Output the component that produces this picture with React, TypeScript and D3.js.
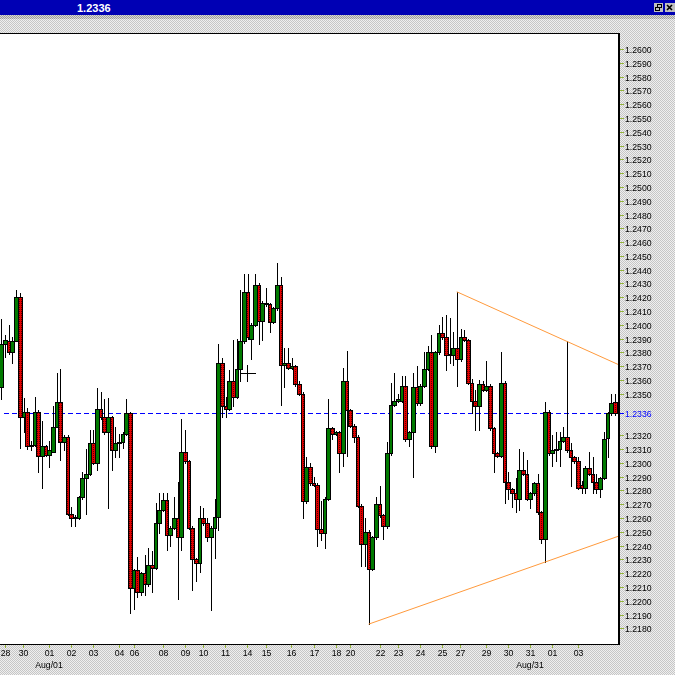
import * as d3 from 'd3';

// 4-hour candles, late Jul – early Sep
const opens = [
  1.2355, 1.2386, 1.2388, 1.2380, 1.2388, 1.2420, 1.2333, 1.2337, 1.2312, 1.2313,
  1.2337, 1.2305, 1.2312, 1.2306, 1.2308, 1.2326, 1.2344, 1.2315, 1.2319, 1.2263,
  1.2260, 1.2260, 1.2275, 1.2289, 1.2292, 1.2314, 1.2300, 1.2339, 1.2333, 1.2322,
  1.2333, 1.2309, 1.2314, 1.2315, 1.2321, 1.2336, 1.2209, 1.2222, 1.2206, 1.2220,
  1.2212, 1.2226, 1.2224, 1.2256, 1.2266, 1.2273, 1.2248, 1.2253, 1.2260, 1.2246,
  1.2308, 1.2301, 1.2253, 1.2230, 1.2227, 1.2260, 1.2256, 1.2246, 1.2253, 1.2261,
  1.2372, 1.2341, 1.2339, 1.2359, 1.2348, 1.2368, 1.2388, 1.2424, 1.2390, 1.2400,
  1.2429, 1.2403, 1.2416, 1.2415, 1.2402, 1.2412, 1.2429, 1.2371, 1.2372, 1.2369,
  1.2370, 1.2357, 1.2350, 1.2272, 1.2297, 1.2285, 1.2284, 1.2252, 1.2249, 1.2274,
  1.2325, 1.2321, 1.2322, 1.2307, 1.2359, 1.2338, 1.2327, 1.2319, 1.2269, 1.2241,
  1.2250, 1.2223, 1.2246, 1.2270, 1.2262, 1.2254, 1.2307, 1.2342, 1.2345, 1.2345,
  1.2356, 1.2317, 1.2322, 1.2355, 1.2343, 1.2356, 1.2368, 1.2380, 1.2312, 1.2380,
  1.2394, 1.2391, 1.2378, 1.2378, 1.2383, 1.2375, 1.2391, 1.2389, 1.2358, 1.2345,
  1.2341, 1.2357, 1.2353, 1.2356, 1.2325, 1.2307, 1.2305, 1.2358, 1.2286, 1.2281,
  1.2278, 1.2274, 1.2295, 1.2292, 1.2274, 1.2278, 1.2285, 1.2264, 1.2245, 1.2337,
  1.2307, 1.2309, 1.2310, 1.2316, 1.2319, 1.2309, 1.2304, 1.2301, 1.2284, 1.2282,
  1.2296, 1.2292, 1.2286, 1.2281, 1.2289, 1.2318, 1.2336, 1.2344,
];

const highs = [
  1.2404, 1.2393, 1.2400, 1.2391, 1.2425, 1.2423, 1.2347, 1.2340, 1.2316, 1.2348,
  1.2338, 1.2330, 1.2313, 1.2316, 1.2341, 1.2365, 1.2368, 1.2320, 1.2320, 1.2268,
  1.2262, 1.2276, 1.2293, 1.2310, 1.2324, 1.2324, 1.2354, 1.2351, 1.2346, 1.2347,
  1.2334, 1.2326, 1.2321, 1.2322, 1.2346, 1.2337, 1.2223, 1.2232, 1.2221, 1.2233,
  1.2238, 1.2236, 1.2271, 1.2278, 1.2278, 1.2278, 1.2254, 1.2275, 1.2286, 1.2332,
  1.2324, 1.2302, 1.2254, 1.2231, 1.2269, 1.2267, 1.2260, 1.2254, 1.2274, 1.2386,
  1.2376, 1.2348, 1.2367, 1.2389, 1.2390, 1.2425, 1.2437, 1.2437, 1.2401, 1.2437,
  1.2430, 1.2417, 1.2427, 1.2416, 1.2413, 1.2445, 1.2435, 1.2383, 1.2383, 1.2376,
  1.2371, 1.2359, 1.2351, 1.2304, 1.2300, 1.2290, 1.2285, 1.2272, 1.2275, 1.2346,
  1.2326, 1.2323, 1.2323, 1.2369, 1.2381, 1.2339, 1.2328, 1.2320, 1.2270, 1.2260,
  1.2251, 1.2247, 1.2275, 1.2283, 1.2263, 1.2315, 1.2358, 1.2365, 1.2350, 1.2363,
  1.2363, 1.2323, 1.2365, 1.2370, 1.2357, 1.2380, 1.2385, 1.2393, 1.2381, 1.2400,
  1.2406, 1.2407, 1.2405, 1.2395, 1.2424, 1.2397, 1.2396, 1.2390, 1.2361, 1.2353,
  1.2360, 1.2359, 1.2374, 1.2357, 1.2326, 1.2308, 1.2380, 1.2359, 1.2293, 1.2282,
  1.2289, 1.2310, 1.2308, 1.2302, 1.2279, 1.2286, 1.2292, 1.2265, 1.2344, 1.2338,
  1.2320, 1.2322, 1.2322, 1.2326, 1.2388, 1.2314, 1.2305, 1.2304, 1.2287, 1.2298,
  1.2308, 1.2304, 1.2292, 1.2290, 1.2322, 1.2337, 1.2350, 1.2350,
];

const lows = [
  1.2346, 1.2377, 1.2379, 1.2372, 1.2388, 1.2311, 1.2322, 1.2310, 1.2309, 1.2312,
  1.2293, 1.2282, 1.2305, 1.2297, 1.2308, 1.2326, 1.2302, 1.2309, 1.2262, 1.2254,
  1.2254, 1.2259, 1.2274, 1.2263, 1.2291, 1.2299, 1.2295, 1.2332, 1.2321, 1.2267,
  1.2295, 1.2304, 1.2304, 1.2311, 1.2320, 1.2191, 1.2194, 1.2203, 1.2204, 1.2204,
  1.2211, 1.2206, 1.2223, 1.2249, 1.2265, 1.2237, 1.2240, 1.2252, 1.2201, 1.2237,
  1.2300, 1.2252, 1.2208, 1.2214, 1.2221, 1.2255, 1.2243, 1.2193, 1.2231, 1.2251,
  1.2333, 1.2333, 1.2338, 1.2341, 1.2347, 1.2359, 1.2387, 1.2390, 1.2375, 1.2399,
  1.2386, 1.2389, 1.2414, 1.2395, 1.2401, 1.2411, 1.2342, 1.2355, 1.2368, 1.2368,
  1.2356, 1.2349, 1.2260, 1.2271, 1.2284, 1.2283, 1.2240, 1.2244, 1.2238, 1.2273,
  1.2317, 1.2320, 1.2293, 1.2298, 1.2305, 1.2326, 1.2315, 1.2268, 1.2225, 1.2225,
  1.2183, 1.2222, 1.2245, 1.2261, 1.2245, 1.2253, 1.2306, 1.2341, 1.2344, 1.2344,
  1.2316, 1.2312, 1.2290, 1.2342, 1.2342, 1.2355, 1.2367, 1.2311, 1.2308, 1.2379,
  1.2390, 1.2367, 1.2372, 1.2371, 1.2356, 1.2374, 1.2388, 1.2357, 1.2336, 1.2324,
  1.2324, 1.2352, 1.2352, 1.2324, 1.2293, 1.2304, 1.2304, 1.2271, 1.2274, 1.2268,
  1.2264, 1.2266, 1.2291, 1.2273, 1.2267, 1.2277, 1.2263, 1.2242, 1.2228, 1.2306,
  1.2298, 1.2301, 1.2298, 1.2315, 1.2308, 1.2283, 1.2300, 1.2281, 1.2278, 1.2278,
  1.2291, 1.2278, 1.2278, 1.2275, 1.2288, 1.2304, 1.2335, 1.2335,
];

const closes = [
  1.2386, 1.2389, 1.2380, 1.2388, 1.2420, 1.2333, 1.2337, 1.2312, 1.2313, 1.2337,
  1.2305, 1.2312, 1.2306, 1.2309, 1.2326, 1.2344, 1.2315, 1.2319, 1.2263, 1.2260,
  1.2261, 1.2275, 1.2289, 1.2292, 1.2314, 1.2300, 1.2339, 1.2333, 1.2322, 1.2333,
  1.2309, 1.2314, 1.2315, 1.2321, 1.2336, 1.2209, 1.2222, 1.2206, 1.2220, 1.2212,
  1.2226, 1.2224, 1.2256, 1.2266, 1.2273, 1.2248, 1.2253, 1.2260, 1.2246, 1.2308,
  1.2301, 1.2253, 1.2230, 1.2227, 1.2260, 1.2256, 1.2246, 1.2253, 1.2261, 1.2372,
  1.2341, 1.2339, 1.2359, 1.2348, 1.2368, 1.2388, 1.2424, 1.2391, 1.2400, 1.2429,
  1.2403, 1.2416, 1.2415, 1.2402, 1.2412, 1.2429, 1.2371, 1.2372, 1.2369, 1.2370,
  1.2357, 1.2350, 1.2272, 1.2297, 1.2285, 1.2284, 1.2252, 1.2249, 1.2274, 1.2325,
  1.2321, 1.2322, 1.2307, 1.2359, 1.2338, 1.2327, 1.2319, 1.2269, 1.2241, 1.2250,
  1.2223, 1.2246, 1.2270, 1.2262, 1.2254, 1.2307, 1.2342, 1.2345, 1.2346, 1.2356,
  1.2317, 1.2322, 1.2355, 1.2343, 1.2356, 1.2368, 1.2380, 1.2312, 1.2380, 1.2394,
  1.2391, 1.2378, 1.2379, 1.2383, 1.2375, 1.2391, 1.2389, 1.2358, 1.2345, 1.2341,
  1.2357, 1.2353, 1.2356, 1.2325, 1.2307, 1.2305, 1.2358, 1.2286, 1.2281, 1.2278,
  1.2274, 1.2295, 1.2292, 1.2274, 1.2278, 1.2285, 1.2264, 1.2245, 1.2337, 1.2307,
  1.2309, 1.2310, 1.2316, 1.2319, 1.2309, 1.2304, 1.2301, 1.2282, 1.2282, 1.2296,
  1.2292, 1.2286, 1.2281, 1.2289, 1.2317, 1.2336, 1.2343, 1.2336,
];

// x axis labels (candle index where each day label sits)
const dayLabels = ['28', '30', '01', '02', '03', '04', '06', '08', '09', '10', '11', '14', '15', '16',
  '17', '18', '20', '22', '23', '24', '25', '27', '29', '30', '31', '01', '03'];
const dayIndex = [1, 6, 13, 19, 25, 32, 36, 44, 50, 55, 61, 67, 72, 79,
  85, 91, 95, 103, 108, 114, 120, 125, 132, 138, 144, 150, 157];
const monthLabels = ['Aug/01', 'Aug/31'];
const monthIndex = [13, 144];

const lastPrice = 1.2336;
// trend lines: pairs of candle indexes (highs for the upper line, lows for the lower one)
const upperLine = [124, 154];
const lowerLine = [100, 148];

const FONT = '"Liberation Sans", Arial, sans-serif';
const PLOT = { left: 0, right: 618, top: 33, bottom: 644 };
const TICK_GREEN = '#94b43a';

export default function App() {
  const x = d3.scaleLinear().domain([0, opens.length - 1]).range([1.3, 614.7]);
  const y = d3.scaleLinear().domain([1.218, 1.26]).range([628.3, 49]);
  const step = x(1) - x(0);

  const priceTicks = d3.range(0, 43).map(i => +(1.218 + i * 0.001).toFixed(4));
  const yLast = Math.round(y(lastPrice));

  const trend = (idx: number[], vals: number[]) => {
    const x1 = x(idx[0]), y1 = y(vals[idx[0]]);
    const x2 = x(idx[1]), y2 = y(vals[idx[1]]);
    const slope = (y2 - y1) / (x2 - x1);
    const xe = PLOT.right;
    return { x1, y1, x2: xe, y2: y1 + slope * (xe - x1) };
  };
  const up = trend(upperLine, highs);
  const lo = trend(lowerLine, lows);

  return (
    <svg width={675} height={675} style={{ position: 'fixed', left: 0, top: 0, display: 'block' }}
      fontFamily={FONT}>
      <defs>
        <pattern id="bgDither" width={2} height={2} patternUnits="userSpaceOnUse">
          <rect width={2} height={2} fill="#efefef" />
          <rect width={1} height={1} fill="#c6c6c6" />
          <rect x={1} y={1} width={1} height={1} fill="#c6c6c6" />
        </pattern>
        <pattern id="bandDither" width={2} height={2} patternUnits="userSpaceOnUse">
          <rect width={2} height={2} fill="#d8d8d8" />
          <rect width={1} height={1} fill="#a0a0a0" />
          <rect x={1} y={1} width={1} height={1} fill="#a0a0a0" />
        </pattern>
        <pattern id="redDither" width={2} height={2} patternUnits="userSpaceOnUse">
          <rect width={2} height={2} fill="#e00000" />
          <rect x={1} y={1} width={1} height={1} fill="#5a0000" />
        </pattern>
        <clipPath id="plotClip">
          <rect x={PLOT.left} y={PLOT.top} width={PLOT.right - PLOT.left} height={PLOT.bottom - PLOT.top} />
        </clipPath>
      </defs>

      {/* window background */}
      <rect width={675} height={675} fill="url(#bgDither)" />
      <rect x={0} y={15} width={675} height={4} fill="url(#bandDither)" />

      {/* title bar */}
      <rect x={0} y={0} width={675} height={15} fill="#0000b4" />
      <text x={77} y={12} fill="#ffffff" fontSize={11} fontWeight="bold">1.2336</text>
      <g shapeRendering="crispEdges">
        <rect x={654} y={3} width={9} height={9} fill="#c0c0c0" />
        <rect x={657.5} y={4.5} width={4} height={3} fill="none" stroke="#000" />
        <rect x={655.5} y={7.5} width={4} height={3} fill="#c0c0c0" stroke="#000" />
        <rect x={665} y={3} width={10} height={9} fill="#c0c0c0" />
      </g>
      <path d="M667,5 L672,10 M672,5 L667,10" stroke="#000" strokeWidth={1.6} />

      {/* plot area */}
      <rect x={PLOT.left} y={PLOT.top} width={PLOT.right - PLOT.left} height={PLOT.bottom - PLOT.top} fill="#ffffff" />

      <g clipPath="url(#plotClip)">
        {/* last price dashed line */}
        <line x1={4} x2={PLOT.right} y1={yLast + 0.5} y2={yLast + 0.5}
          stroke="#0000ff" strokeDasharray="5,3" shapeRendering="crispEdges" />

        {/* candles */}
        <g shapeRendering="crispEdges">
          {opens.map((o, i) => {
            const c = closes[i];
            const cx = x(i);
            const x0 = Math.round(cx - step / 2);
            const x1 = Math.round(cx + step / 2);
            const xm = Math.round((x0 + x1) / 2) + 0.5;
            const top = Math.round(y(Math.max(o, c)));
            const bot = Math.round(y(Math.min(o, c)));
            const up = c >= o;
            return (
              <g key={i}>
                <line x1={xm} x2={xm} y1={Math.round(y(highs[i]))} y2={Math.round(y(lows[i])) + 1} stroke="#000" />
                <rect x={x0 + 0.5} y={top + 0.5} width={x1 - x0} height={Math.max(bot - top, 1)}
                  fill={up ? '#007a00' : 'url(#redDither)'} stroke="#000" />
              </g>
            );
          })}
        </g>

        {/* trend lines */}
        <line x1={up.x1} y1={up.y1} x2={up.x2} y2={up.y2} stroke="#ff9a3c" strokeWidth={1} />
        <line x1={lo.x1} y1={lo.y1} x2={lo.x2} y2={lo.y2} stroke="#ff9a3c" strokeWidth={1} />

        {/* crosshair cursor */}
        <g stroke="#000" shapeRendering="crispEdges">
          <line x1={240} x2={256} y1={373.5} y2={373.5} />
          <line x1={247.5} x2={247.5} y1={365} y2={382} />
        </g>
      </g>

      {/* plot frame */}
      <g stroke="#000" shapeRendering="crispEdges" fill="none">
        <line x1={0} x2={PLOT.right + 1} y1={PLOT.top + 0.5} y2={PLOT.top + 0.5} />
        <line x1={PLOT.right + 0.5} x2={PLOT.right + 0.5} y1={PLOT.top} y2={PLOT.bottom + 1} />
        <line x1={PLOT.right + 1.5} x2={PLOT.right + 1.5} y1={PLOT.top} y2={PLOT.bottom + 1} />
        <line x1={0} x2={PLOT.right + 1} y1={PLOT.bottom + 0.5} y2={PLOT.bottom + 0.5} />
      </g>

      {/* price axis */}
      <g fontSize={8.7}>
        {priceTicks.map(p => {
          const ty = Math.round(y(p));
          if (Math.abs(ty - yLast) < 12) return null;
          return (
            <g key={p}>
              <line x1={620} x2={624} y1={ty + 0.5} y2={ty + 0.5} stroke={TICK_GREEN} shapeRendering="crispEdges" />
              <text x={625} y={ty + 3.5} fill="#000">{p.toFixed(4)}</text>
            </g>
          );
        })}
        <line x1={620} x2={624} y1={yLast + 0.5} y2={yLast + 0.5} stroke="#0000ff" shapeRendering="crispEdges" />
        <text x={625} y={yLast + 3.5} fill="#0000ff">{lastPrice.toFixed(4)}</text>
      </g>

      {/* time axis */}
      <g fontSize={8.7} textAnchor="middle">
        {dayLabels.map((d, i) => {
          const tx = Math.round(x(dayIndex[i]));
          return (
            <g key={i}>
              <line x1={tx + 0.5} x2={tx + 0.5} y1={645} y2={648} stroke={TICK_GREEN} shapeRendering="crispEdges" />
              <text x={tx + 0.5} y={656} fill="#000">{d}</text>
            </g>
          );
        })}
        {monthLabels.map((m, i) => (
          <text key={m} x={Math.round(x(monthIndex[i]))} y={668} fill="#000">{m}</text>
        ))}
      </g>
    </svg>
  );
}
